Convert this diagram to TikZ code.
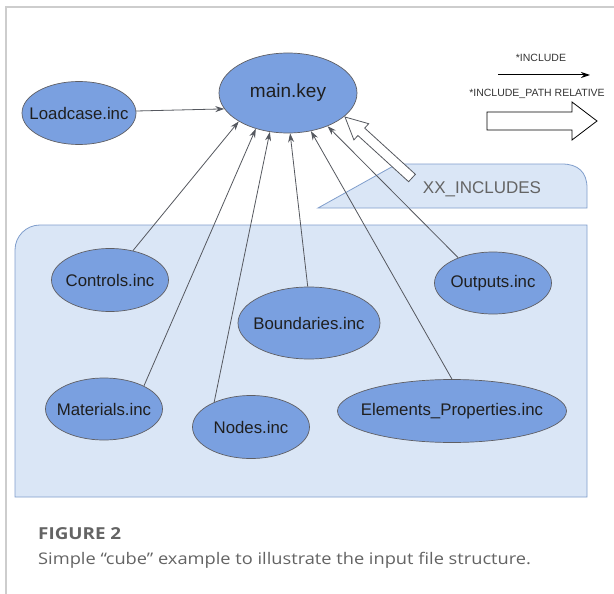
\documentclass[tikz,border=0pt]{standalone}
\usepackage{fontspec}
\setmainfont{Liberation Sans}
\newfontfamily\capfont[FakeStretch=1.14]{Open Sans}
\usetikzlibrary{arrows.meta,shapes.geometric,calc}
\definecolor{ellfill}{RGB}{122,160,224}
\definecolor{ellline}{RGB}{95,95,100}
\definecolor{boxfill}{RGB}{218,230,246}
\definecolor{boxline}{RGB}{128,158,204}
\definecolor{conn}{RGB}{85,88,95}
\definecolor{frame}{RGB}{205,205,205}
\definecolor{captxt}{RGB}{100,100,100}
\tikzset{
  filebox/.style={ellipse,draw=ellline,fill=ellfill,line width=0.7pt,inner sep=0pt},
  ftext/.style={font=\fontsize{16.8}{18}\selectfont,text=black!88,inner sep=0pt},
  incarrow/.style={draw=conn,line width=0.8pt,-{Stealth[length=9pt,width=6pt]}},
}
\begin{document}
\begin{tikzpicture}[x=1pt,y=-1pt]
\useasboundingbox (0,0) rectangle (614,594);
\fill[white] (0,0) rectangle (614,594);
% frame
\draw[frame,line width=1.5pt] (6,594) -- (6,7) -- (614,7);
% container
\draw[boxline,fill=boxfill,line width=0.8pt] (15,497) -- (15,250) arc[start angle=180,end angle=90,x radius=25,y radius=-25] -- (587,225) -- (587,497) -- cycle;
% XX_INCLUDES tab
\draw[boxline,fill=boxfill,line width=0.8pt] (318,208) -- (388,169) .. controls (395,165) and (398,164) .. (405,164) -- (562,164) .. controls (578,164) and (587,172) .. (587,188) -- (587,208) -- cycle;
\node[text=captxt,font=\fontsize{17}{19}\selectfont] (xxl) at (482,189) {XX\_INCLUDES};
% nodes
\node[filebox,minimum width=138pt,minimum height=80pt,label={[ftext,font=\fontsize{19}{21}\selectfont]center:main.key}] (main) at (288,93) {};
\node[filebox,minimum width=114pt,minimum height=63pt,label={[ftext]center:Loadcase.inc}] (load) at (79,113) {};
\node[filebox,minimum width=117pt,minimum height=63pt,label={[ftext]center:Controls.inc}] (ctrl) at (110,280) {};
\node[filebox,minimum width=117pt,minimum height=62pt,label={[ftext]center:Outputs.inc}] (outp) at (493,283) {};
\node[filebox,minimum width=142pt,minimum height=72pt,label={[ftext]center:Boundaries.inc}] (bound) at (309,323) {};
\node[filebox,minimum width=117pt,minimum height=62pt,label={[ftext]center:Materials.inc}] (mat) at (104,409) {};
\node[filebox,minimum width=117pt,minimum height=63pt,label={[ftext]center:Nodes.inc}] (nodes) at (251,427) {};
\node[filebox,minimum width=229pt,minimum height=63pt,label={[ftext]center:Elements\_Properties.inc}] (elem) at (452,411) {};
% connectors
\draw[incarrow] (load.2) -- (main.-166);
\draw[incarrow] (ctrl.52) -- (main.-150);
\draw[incarrow] (mat.30) -- (main.-132);
\draw[incarrow] (nodes.146) -- (main.-115);
\draw[incarrow] (bound.92) -- (main.-87);
\draw[incarrow] (elem.90) -- (main.-59);
\draw[incarrow] (outp.144) -- (main.-40);
% hollow arrow from XX_INCLUDES to main.key
\draw[conn,fill=white,line width=0.8pt] (415.4,174.3) -- (364.7,128.1) -- (368.7,123.7) -- (345,117) -- (353.9,139.9) -- (357.9,135.5) -- (408.6,181.7) -- cycle;
% legend
\node[font=\fontsize{10.5}{12}\selectfont,text=black!80] (l1) at (541,58) {*INCLUDE};
\coordinate (la) at (498,75);
\coordinate (lb) at (590,75);
\draw[black,line width=1pt,-{Stealth[length=9pt,width=6pt]}] (la) -- (lb);
\node[font=\fontsize{10.5}{12}\selectfont,text=black!80] (l2) at (537,94) {*INCLUDE\_PATH RELATIVE};
\draw[black,line width=0.8pt,fill=white] (487,112) -- (572,112) -- (572,102) -- (597,121) -- (572,140) -- (572,130) -- (487,130) -- cycle;
% caption
\node[anchor=base west,font=\capfont\bfseries\fontsize{16.5}{18}\selectfont,text=captxt,inner sep=0pt] (fig) at (38,539) {FIGURE 2};
\node[anchor=base west,font=\capfont\fontsize{16}{18}\selectfont,text=captxt,inner sep=0pt] (cap) at (38,564) {Simple “cube” example to illustrate the input file structure.};
\end{tikzpicture}
\end{document}
